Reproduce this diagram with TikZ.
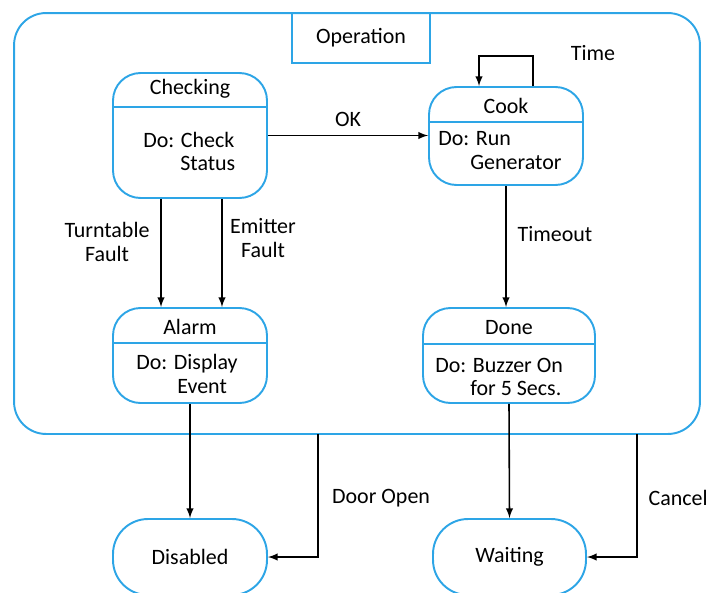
\documentclass[tikz,border=0pt]{standalone}
\usepackage{fontspec}
\setmainfont{Carlito}
\usetikzlibrary{positioning}
\definecolor{stateblue}{RGB}{45,165,230}
\tikzstyle{superstate} = [draw=stateblue, line width=1.1pt, rounded corners=0.64cm]
\tikzstyle{namebox} = [draw=stateblue, line width=1.1pt]
\tikzstyle{state} = [draw=stateblue, line width=1.1pt, rounded corners=0.55cm, minimum width=3.08cm]
\tikzstyle{pill} = [state, rounded corners=0.7cm, minimum height=1.52cm]
\tikzstyle{divider} = [draw=stateblue, line width=1.1pt]
\tikzstyle{body} = [anchor=west, align=left, inner sep=0pt]
\tikzstyle{flow} = [draw, ->, line width=0.9pt]

\begin{document}
\begin{tikzpicture}[x=0.02cm, y=-0.02cm, >=latex, font=\fontsize{12.5}{13.5}\selectfont]
\useasboundingbox (0,0) rectangle (709,592);

% superstate
\node [superstate, minimum width=13.72cm, minimum height=8.42cm] (operation) at (357,223.5) {};
\node [namebox, minimum width=2.76cm, minimum height=1cm] (opname) at (361,38) {Operation};

% states inside
\node [state, minimum height=2.5cm] (checking) at (190,135.5) {};
\node [state, minimum height=1.96cm] (cook) at (506,136) {};
\node [state, minimum height=1.9cm] (alarm) at (190,355.5) {};
\node [state, minimum width=3.44cm, minimum height=1.9cm] (done) at (509,355.5) {};

\draw [divider] ([yshift=-0.7cm]checking.north west) -- ([yshift=-0.7cm]checking.north east);
\draw [divider] ([yshift=-0.72cm]cook.north west) -- ([yshift=-0.72cm]cook.north east);
\draw [divider] ([yshift=-0.72cm]alarm.north west) -- ([yshift=-0.72cm]alarm.north east);
\draw [divider] ([yshift=-0.74cm]done.north west) -- ([yshift=-0.74cm]done.north east);

\node (checkingname) at ([yshift=-0.34cm]checking.north) {Checking};
\node (cookname) at ([yshift=-0.4cm]cook.north) {Cook};
\node (alarmname) at ([yshift=-0.4cm]alarm.north) {Alarm};
\node (donename) at ([yshift=-0.4cm]done.north) {Done};

\node [body] (checkingdo) at (143,151.5) {Do: Check\\\hspace*{0.74cm}Status};
\node [body] (cookdo) at (438,150.5) {Do: Run\\\hspace*{0.64cm}Generator};
\node [body] (alarmdo) at (136,374) {Do: Display\\\hspace*{0.82cm}Event};
\node [body] (donedo) at (435,377) {Do: Buzzer On\\\hspace*{0.7cm}for 5 Secs.};

% states outside
\node [pill] (disabled) at (190,557) {Disabled};
\node [pill, minimum width=3.06cm] (waiting) at (509.5,557) {Waiting};

\coordinate (doorsrc) at (318,434);
\coordinate (cancelsrc) at (637,434);

% transitions
\draw [flow] (checking.east) -- (checking.east -| cook.west) node (ok) [midway, above=0.04cm] {OK};
\draw [flow] ([xshift=0.54cm]cook.north) -- ++(0,0.6cm) -| ([xshift=-0.54cm]cook.north);
\node (time) at (593,53) {Time};
\draw [flow] ([xshift=-0.58cm]checking.south) -- ([xshift=-0.58cm]alarm.north);
\draw [flow] ([xshift=0.64cm]checking.south) -- ([xshift=0.64cm]alarm.north);
\node [align=center] (turntable) at (107,242) {Turntable\\Fault};
\node [align=center] (emitter) at (263,238) {Emitter\\Fault};
\draw [flow] (cook.south) -- (cook.south |- done.north) node (timeout) [pos=0.4, right=0.1cm] {Timeout};
\draw [flow] (alarm.south) -- (disabled.north);
\draw [flow] (done.south) -- (waiting.north);
\draw [flow] (doorsrc) |- (disabled.east) node (dooropen) [pos=0.26, right=0.15cm] {Door Open};
\draw [flow] (cancelsrc) |- (waiting.east) node (cancel) [pos=0.26, right=0.1cm] {Cancel};

\end{tikzpicture}
\end{document}
